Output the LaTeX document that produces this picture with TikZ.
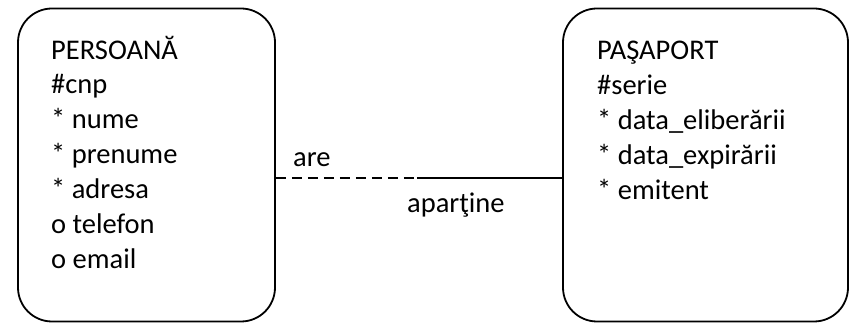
\documentclass[tikz,border=0pt]{standalone}
\usepackage{fontspec}
\setmainfont{Carlito}
\begin{document}
\begin{tikzpicture}[x=1pt,y=-1pt,
  entity/.style={draw=black,line width=1.8pt,rounded corners=34pt,inner sep=0pt},
  attrs/.style={anchor=base west,align=left,inner sep=0pt,
    font=\fontsize{28.5}{35}\selectfont},
  rolelabel/.style={anchor=base west,inner sep=0pt,font=\fontsize{28.5}{35}\selectfont},
  link/.style={line width=1.8pt}]
\useasboundingbox (0,0) rectangle (855,323);
% entity boxes
\node[entity,minimum width=257pt,minimum height=313pt] (pers) at (146.5,165) {};
\node[entity,minimum width=285pt,minimum height=313pt] (pasp) at (705.5,165) {};
% attribute lists (anchored at the baseline of their last line)
\node[attrs] (perstxt) at (51,269) {PERSOANĂ\\\#cnp\\* nume\\* prenume\\* adresa\\o telefon\\o email};
\node[attrs] (pasptxt) at (597,200) {PAŞAPORT\\\#serie\\* data\_eliberării\\* data\_expirării\\* emitent};
% relationship: optional half dashed, mandatory half solid
\coordinate (mid) at (417,178);
\draw[link,dash pattern=on 10pt off 6pt] (pers.east |- mid) -- (mid);
\draw[link] (mid) -- (pasp.west |- mid);
\node[rolelabel] (are) at (293,167) {are};
\node[rolelabel] (apartine) at (407,213) {aparţine};
\end{tikzpicture}
\end{document}
